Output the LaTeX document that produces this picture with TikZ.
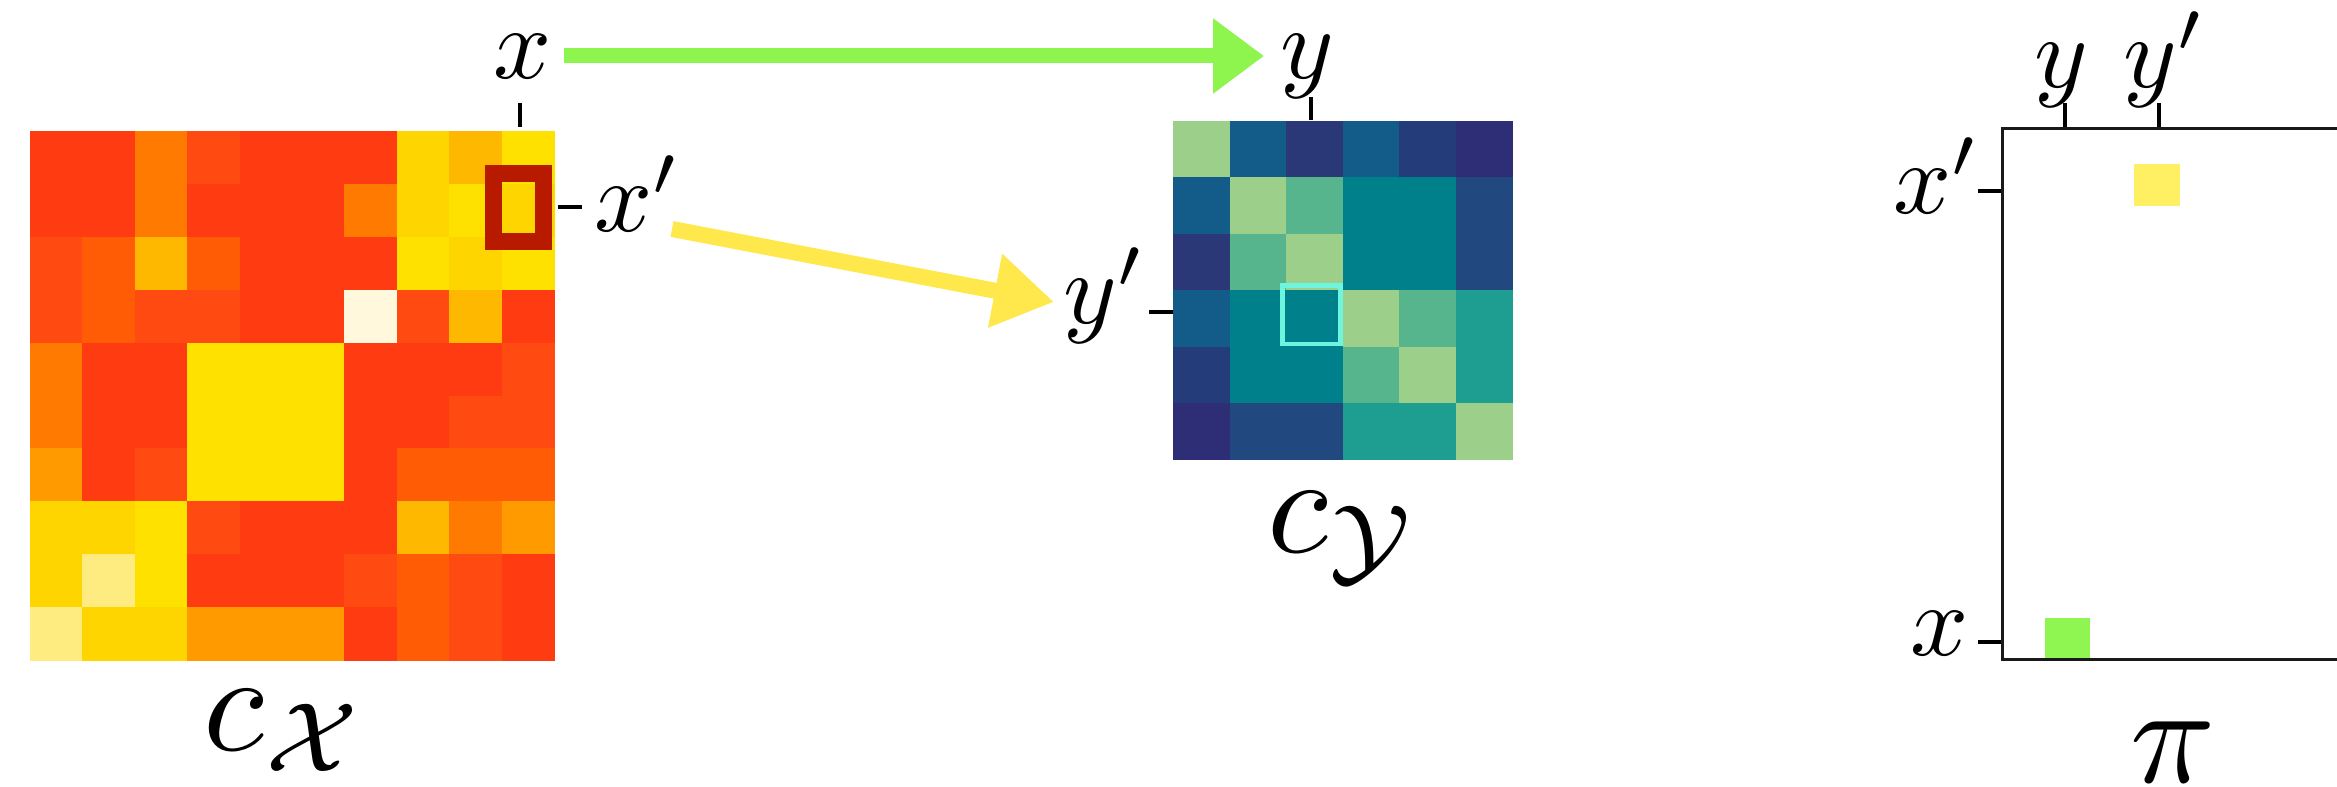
\documentclass[tikz,border=0pt]{standalone}
\usetikzlibrary{arrows.meta}
\definecolor{mR}{HTML}{FF3B12}
\definecolor{mRO}{HTML}{FF4A12}
\definecolor{mOR}{HTML}{FF5C05}
\definecolor{mO}{HTML}{FF7A00}
\definecolor{mOG}{HTML}{FF9A00}
\definecolor{mGO}{HTML}{FFB800}
\definecolor{mG}{HTML}{FFD500}
\definecolor{mY}{HTML}{FFE100}
\definecolor{mLY}{HTML}{FFEC80}
\definecolor{mW}{HTML}{FFF8DC}
\definecolor{vlg}{HTML}{9BCF8A}
\definecolor{vmg}{HTML}{56B58C}
\definecolor{vtg}{HTML}{1E9E90}
\definecolor{vte}{HTML}{00808A}
\definecolor{vbl}{HTML}{135C8A}
\definecolor{vnv}{HTML}{22497F}
\definecolor{vdA}{HTML}{2B3878}
\definecolor{vdB}{HTML}{2D2E75}
\definecolor{vdC}{HTML}{243D7A}
\definecolor{hlred}{HTML}{B81A00}
\definecolor{hlcyan}{HTML}{6EF5E0}
\definecolor{agreen}{HTML}{8EF54F}
\definecolor{ayellow}{HTML}{FFE84B}
\definecolor{pyellow}{HTML}{FFEF62}
\definecolor{pgreen}{HTML}{8FF551}
\tikzset{
  lbl/.style={inner sep=0pt, font=\normalsize, scale=5.8},
  biglbl/.style={inner sep=0pt, font=\normalsize, scale=8},
  tickln/.style={line width=0.09cm, black},
  boxline/.style={line width=0.06cm, black!90},
  arrG/.style={line width=0.3cm, agreen, -{Triangle[length=1.02cm,width=1.44cm]}},
  arrY/.style={line width=0.32cm, ayellow, -{Triangle[length=1.2cm,width=1.42cm]}},
}
\begin{document}
\begin{tikzpicture}[x=0.02cm,y=-0.02cm]
\path[use as bounding box] (0,0) rectangle (2337,787);
% left matrix C_X
\foreach \row [count=\i from 0] in {
 {mR,mR,mO,mRO,mR,mR,mR,mG,mGO,mY},
 {mR,mR,mO,mR,mR,mR,mO,mG,mY,mG},
 {mRO,mOR,mGO,mOR,mR,mR,mR,mY,mG,mY},
 {mRO,mOR,mRO,mRO,mR,mR,mW,mRO,mGO,mR},
 {mO,mR,mR,mY,mY,mY,mR,mR,mR,mRO},
 {mO,mR,mR,mY,mY,mY,mR,mR,mRO,mRO},
 {mOG,mR,mRO,mY,mY,mY,mR,mOR,mOR,mOR},
 {mG,mG,mY,mRO,mR,mR,mR,mGO,mO,mOG},
 {mG,mLY,mY,mR,mR,mR,mRO,mOR,mRO,mR},
 {mLY,mG,mG,mOG,mOG,mOG,mR,mOR,mRO,mR}}{
  \foreach \c [count=\j from 0] in \row {
    \fill[\c] ({30+\j*52.4},{131+\i*52.9}) rectangle ++(52.9,53.4);
  }
}
% middle matrix C_Y
\foreach \row [count=\i from 0] in {
 {vlg,vbl,vdA,vbl,vdC,vdB},
 {vbl,vlg,vmg,vte,vte,vnv},
 {vdA,vmg,vlg,vte,vte,vnv},
 {vbl,vte,vte,vlg,vmg,vtg},
 {vdC,vte,vte,vmg,vlg,vtg},
 {vdB,vnv,vnv,vtg,vtg,vlg}}{
  \foreach \c [count=\j from 0] in \row {
    \fill[\c] ({1173+\j*56.5},{121+\i*56.4}) rectangle ++(57,56.9);
  }
}
% highlight boxes
\draw[line width=0.34cm, hlred] (493.5,173.5) rectangle (543.5,241.5);
\draw[line width=0.1cm, hlcyan] (1282,286) rectangle (1340,344);
% ticks
\draw[tickln] (520,103) -- (520,127);
\draw[tickln] (558,207) -- (582,207);
\draw[tickln] (1311,97) -- (1311,120);
\draw[tickln] (1149,312) -- (1173,312);
\draw[tickln] (2065,103) -- (2065,128);
\draw[tickln] (2159,103) -- (2159,128);
\draw[tickln] (1978,191) -- (2002,191);
\draw[tickln] (1978,642) -- (2002,642);
% right plan box
\fill[pyellow] (2134,164) rectangle (2180,206);
\fill[pgreen] (2045,618) rectangle (2090,659);
\draw[boxline] (2360,129) -- (2002,129) -- (2002,659) -- (2360,659);
% labels
\node[lbl, anchor=base] (xT) at (523,79) {$x$};
\node[lbl, anchor=base west] (xP) at (592,232) {$x'$};
\node[lbl, anchor=base] (yT) at (1307,79) {$y$};
\node[lbl, anchor=base east] (yP) at (1148,324) {$y'$};
\node[lbl, anchor=base] (yR) at (2061,88) {$y$};
\node[lbl, anchor=base] (yPR) at (2165,88) {$y'$};
\node[lbl, anchor=base east] (xPR) at (1982,214) {$x'$};
\node[lbl, anchor=base] (xR) at (1940,655) {$x$};
\node[biglbl, anchor=base] (cX) at (285,750) {$c_{\mathcal{X}}$};
\node[biglbl, anchor=base] (cY) at (1343,552) {$c_{\mathcal{Y}}$};
\node[biglbl, anchor=base] (piL) at (2173,782) {$\pi$};
% arrows
\coordinate (gs) at (564,56);
\coordinate (ge) at (1264,56);
\coordinate (ys) at (672,229);
\coordinate (ye) at (1054,302);
\draw[arrG] (gs) -- (ge);
\draw[arrY] (ys) -- (ye);
\end{tikzpicture}
\end{document}
